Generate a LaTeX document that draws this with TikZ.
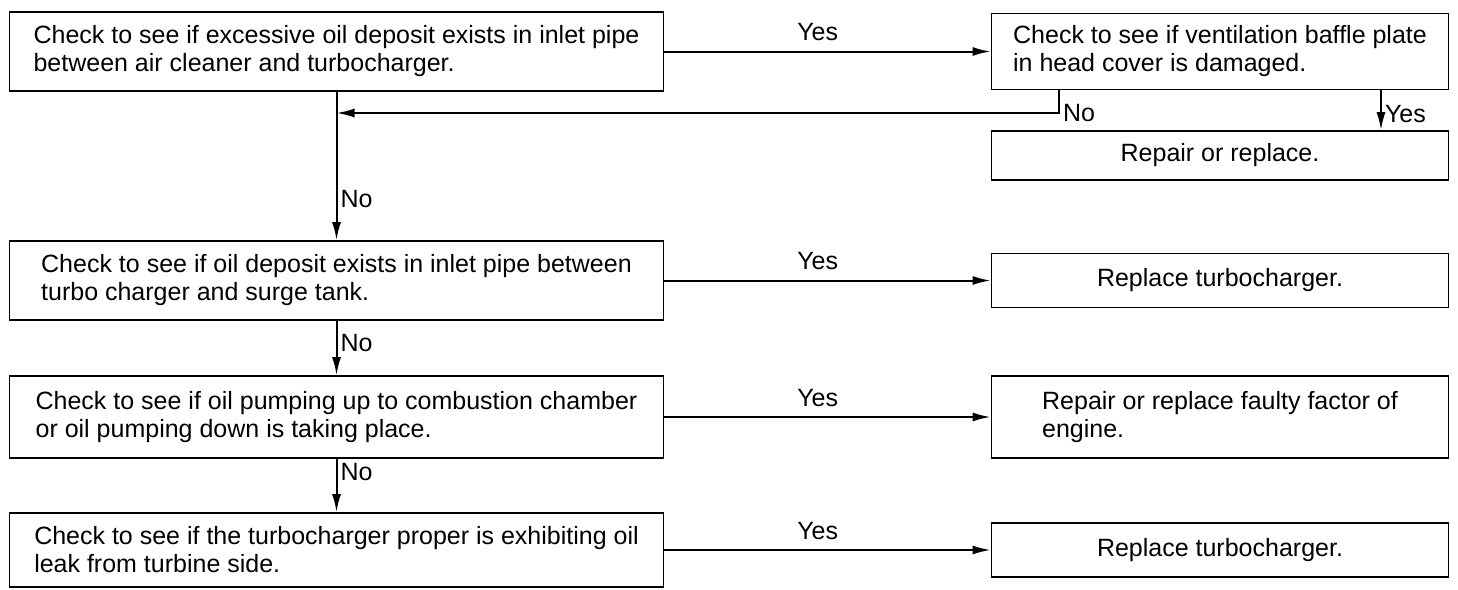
\documentclass[tikz,border=0pt]{standalone}
\usepackage{fontspec}
\setmainfont{Liberation Sans}
\usetikzlibrary{arrows.meta}

\begin{document}
\begin{tikzpicture}[x=1pt, y=-1pt, font=\fontsize{25}{28}\selectfont,
    box/.style={draw, line width=1.7pt, align=left, inner sep=0pt},
    chk/.style={box, minimum width=654pt},
    act/.style={box, minimum width=457pt},
    flow/.style={line width=2pt, -{Latex[length=18pt,width=9pt]}},
    lab/.style={inner sep=3pt}]
  \useasboundingbox (0,0) rectangle (1458,589);
  % checks, down the left
  \node[chk, minimum height=79pt] (c1) at (336.5,51.5) {Check to see if excessive oil deposit exists in inlet pipe\\between air cleaner and turbocharger.};
  \node[chk, minimum height=79pt] (c2) at (336.5,280.5) {Check to see if oil deposit exists in inlet pipe between\\turbo charger and surge tank.};
  \node[chk, minimum height=82pt] (c3) at (336.5,417) {Check to see if oil pumping up to combustion chamber\\or oil pumping down is taking place.};
  \node[chk, minimum height=74pt] (c4) at (336.5,550) {Check to see if the turbocharger proper is exhibiting oil\\leak from turbine side.};
  % answers, down the right
  \node[act, minimum height=76pt] (r1) at (1220,51.5) {Check to see if ventilation baffle plate\\in head cover is damaged.};
  \node[act, minimum height=49pt] (r2) at (1220,155.5) {Repair or replace.};
  \node[act, minimum height=54pt] (r3) at (1220,280.5) {Replace turbocharger.};
  \node[act, minimum height=82pt] (r4) at (1220,417) {Repair or replace faulty factor of\\engine.};
  \node[act, minimum height=54pt] (r5) at (1220,550) {Replace turbocharger.};
  \coordinate (nb) at (1059,113);
  \coordinate (yd) at (1381,0);
  \foreach \a/\b in {c1/r1, c2/r3, c3/r4, c4/r5}
    \draw[flow] (\a.east) -- node[above=6pt, pos=0.47]{Yes} (\a.east -| \b.west);
  \foreach \a/\b/\p in {c1/c2/0.72, c2/c3/0.4, c3/c4/0.25}
    \draw[flow] (\a) -- node[right, pos=\p, lab]{No} (\b);
  \draw[flow] (r1.south -| nb) -- (nb) node[right, lab]{No} -- (nb -| c1.south);
  \draw[flow] (r1.south -| yd) -- node[right, pos=0.6, lab]{Yes} (r2.north -| yd);
\end{tikzpicture}
\end{document}
